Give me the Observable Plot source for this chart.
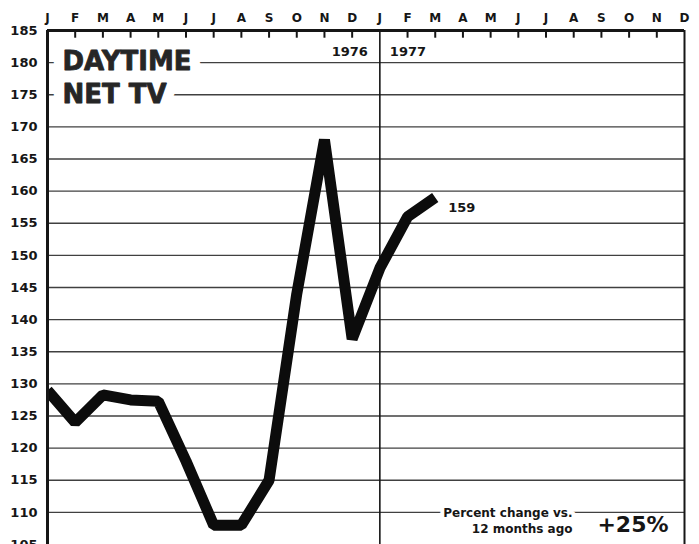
<!DOCTYPE html>
<html>
<head>
<meta charset="utf-8">
<script src="https://cdn.jsdelivr.net/npm/d3@7"></script>
<script src="https://cdn.jsdelivr.net/npm/@observablehq/plot@0.6"></script>
<style>
  html, body { margin: 0; padding: 0; background: white; }
  #chart svg { display: block; }
</style>
</head>
<body>
<div id="chart"></div>
<script>
// Month letters along the top (1976 then 1977)
const monthLetters = ["J","F","M","A","M","J","J","A","S","O","N","D"];
const yearLabels = ["1976", "1977"];
// Daytime network TV index, Jan 1976 .. Mar 1977
const values = [129, 124, 128.3, 127.5, 127.3, 118, 108, 108, 115, 144, 168, 137, 148, 156, 159];
// Y tick labels and horizontal rules
const yTicks = [105, 110, 115, 120, 125, 130, 135, 140, 145, 150, 155, 160, 165, 170, 175, 180, 185];
const gridValues = [110, 115, 120, 125, 130, 135, 140, 145, 150, 155, 160, 165, 170, 175, 180];
const titleText = "DAYTIME\nNET TV";
const changeLabel = "Percent change vs.\n12 months ago";
const changeValue = "+25%";

const allMonths = [...monthLetters, ...monthLetters];
const monthIdx = allMonths.map((_, i) => i);
const innerTicks = monthIdx.filter(i => i !== 0 && i !== 12 && i !== allMonths.length - 1);
const data = values.map((v, i) => ({m: i, v}));
const last = data[data.length - 1];
const ink = "#161616";

const titleOpts = {frameAnchor: "top-left", dx: 15, dy: 17, lineAnchor: "top", textAnchor: "start",
  fontSize: 26, fontWeight: "bold", letterSpacing: -0.8, lineHeight: 1.24};

const chart = Plot.plot({
  width: 699,
  height: 544,
  marginLeft: 47,
  marginRight: 15,
  marginTop: 30,
  marginBottom: 0,
  x: {domain: [0, allMonths.length - 1], axis: null},
  y: {domain: [105, 185], axis: null},
  style: {fontFamily: "DejaVu Sans", fontWeight: "bold", color: ink, background: "white"},
  marks: [
    Plot.ruleY(gridValues, {stroke: "#404040", strokeWidth: 1.4}),
    Plot.ruleX([12], {stroke: ink, strokeWidth: 1.6}),
    Plot.ruleX(innerTicks, {y1: 185, y2: 183.8, stroke: ink, strokeWidth: 2}),
    Plot.axisY({ticks: yTicks, tickSize: 0, tickPadding: 10, fontSize: 13, fontWeight: "bold", label: null,
      tickFormat: d => String(d), stroke: ink, strokeWidth: 0.3}),
    Plot.axisX({anchor: "top", ticks: monthIdx, tickSize: 0, tickPadding: 9, fontSize: 12, fontWeight: "bold", label: null,
      tickFormat: i => allMonths[i], stroke: ink, strokeWidth: 0.4}),
    // white knock-out behind the title, then the title itself
    Plot.text([titleText], {...titleOpts, fill: "white", stroke: "white", strokeWidth: 22, strokeLinejoin: "round"}),
    Plot.text([titleText], {...titleOpts, fill: "#262626", stroke: "#262626", strokeWidth: 0.8}),
    Plot.text([yearLabels[0]], {x: 12, frameAnchor: "top", dy: 21, dx: -12, textAnchor: "end", lineAnchor: "middle", fontSize: 13, fill: ink}),
    Plot.text([yearLabels[1]], {x: 12, frameAnchor: "top", dy: 21, dx: 10, textAnchor: "start", lineAnchor: "middle", fontSize: 13, fill: ink}),
    Plot.line(data, {x: "m", y: "v", stroke: "#0c0c0c", strokeWidth: 11, strokeLinecap: "butt", strokeLinejoin: "miter", clip: true}),
    Plot.text([last], {x: "m", y: "v", text: d => String(d.v), dx: 13, dy: 10, textAnchor: "start", fontSize: 13, fill: ink}),
    Plot.text([changeLabel], {frameAnchor: "bottom-right", dx: -112, dy: -12, lineAnchor: "bottom", textAnchor: "end",
      fontSize: 12, lineHeight: 1.3, fill: ink, stroke: "white", strokeWidth: 8}),
    Plot.text([changeValue], {frameAnchor: "bottom-right", dx: -16, dy: -13, lineAnchor: "bottom", textAnchor: "end",
      fontSize: 22, letterSpacing: 2.5, fill: ink}),
    Plot.ruleX([0], {stroke: ink, strokeWidth: 3}),
    Plot.ruleX([allMonths.length - 1], {stroke: ink, strokeWidth: 2}),
    Plot.ruleY([185], {stroke: ink, strokeWidth: 3})
  ]
});
document.getElementById("chart").appendChild(chart);
</script>
</body>
</html>
